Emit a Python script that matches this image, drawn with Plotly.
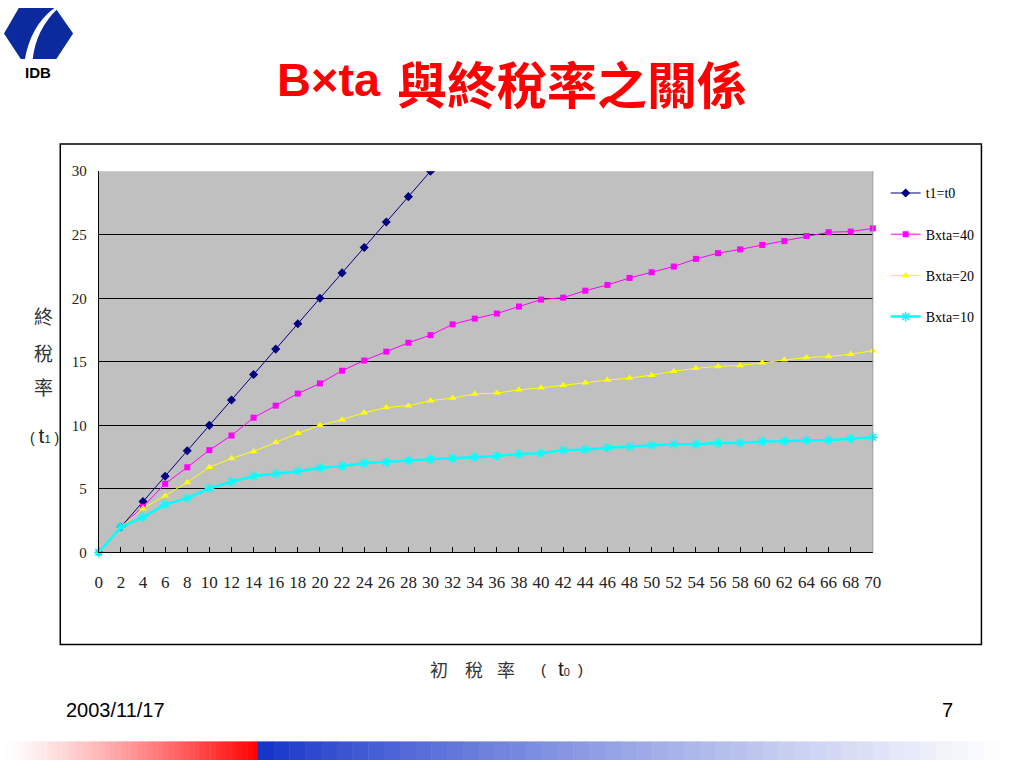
import plotly.graph_objects as go

# ---------------- data ----------------
t0 = [0, 2, 4, 6, 8, 10, 12, 14, 16, 18, 20, 22, 24, 26, 28, 30, 32, 34,
      36, 38, 40, 42, 44, 46, 48, 50, 52, 54, 56, 58, 60, 62, 64, 66, 68, 70]
t1_eq_t0 = [0, 2, 4, 6, 8, 10, 12, 14, 16, 18, 20, 22, 24, 26, 28, 30, 32, 34,
            36, 38, 40, 42, 44, 46, 48, 50, 52, 54, 56, 58, 60, 62, 64, 66, 68, 70]
bxta40 = [0, 2.0, 3.6, 5.4, 6.7, 8.05, 9.2, 10.6, 11.55, 12.5, 13.3, 14.3, 15.1, 15.8,
          16.5, 17.1, 17.95, 18.4, 18.8, 19.35, 19.9, 20.05, 20.6, 21.05, 21.6, 22.05,
          22.5, 23.1, 23.55, 23.85, 24.2, 24.5, 24.9, 25.2, 25.25, 25.5]
bxta20 = [0, 2.0, 3.45, 4.45, 5.5, 6.7, 7.4, 7.95, 8.65, 9.37, 10.0, 10.45, 11.0, 11.4,
          11.55, 11.94, 12.15, 12.47, 12.54, 12.8, 12.95, 13.16, 13.36, 13.56, 13.72,
          13.95, 14.26, 14.49, 14.64, 14.72, 14.93, 15.16, 15.34, 15.42, 15.6, 15.88]
bxta10 = [0, 2.0, 2.78, 3.76, 4.27, 5.04, 5.56, 6.0, 6.2, 6.38, 6.64, 6.8, 7.02, 7.1,
          7.23, 7.33, 7.4, 7.49, 7.59, 7.74, 7.8, 8.05, 8.1, 8.23, 8.34, 8.44, 8.52,
          8.52, 8.62, 8.62, 8.72, 8.75, 8.83, 8.83, 8.96, 9.06]
series_names = ["t1=t0", "Bxta=40", "Bxta=20", "Bxta=10"]
x_ticks = t0
y_ticks = [0, 5, 10, 15, 20, 25, 30]

W, H = 1024, 768
def px(x):
    return x / W
def py(y):
    return 1 - y / H

SERIF = "Liberation Serif, Times New Roman, serif"
SANS = "Liberation Sans, Arial, sans-serif"
CJK = "Noto Sans CJK TC, sans-serif"

fig = go.Figure()
fig.add_trace(go.Scatter(x=t0, y=t1_eq_t0, name=series_names[0], mode="lines+markers",
                         line=dict(color="#000080", width=1),
                         marker=dict(symbol="diamond", size=7, color="#000080"),
                         legendgroup="a"))
fig.add_trace(go.Scatter(x=t0, y=bxta40, name=series_names[1], mode="lines+markers",
                         line=dict(color="#FF00FF", width=1),
                         marker=dict(symbol="square", size=6, color="#FF00FF"),
                         cliponaxis=False, legendgroup="b"))
fig.add_trace(go.Scatter(x=t0, y=bxta20, name=series_names[2], mode="lines+markers",
                         line=dict(color="#FFFF00", width=1),
                         marker=dict(symbol="triangle-up", size=7, color="#FFFF00"),
                         cliponaxis=False, legendgroup="c"))
fig.add_trace(go.Scatter(x=t0, y=bxta10, name=series_names[3], mode="lines+markers",
                         line=dict(color="#00FFFF", width=2.5),
                         marker=dict(symbol="asterisk-open", size=8, color="#00FFFF",
                                     line=dict(color="#00FFFF", width=1.5)),
                         cliponaxis=False, legendgroup="d"))

shapes = []
# outer chart box
shapes.append(dict(type="rect", xref="paper", yref="paper",
                   x0=px(57), x1=px(990), y0=py(650), y1=py(139),
                   line=dict(color="black", width=1.5), fillcolor="rgba(0,0,0,0)",
                   layer="below"))
# plot area right border
shapes.append(dict(type="line", xref="paper", yref="paper",
                   x0=px(880), x1=px(880), y0=py(556), y1=py(166.7),
                   line=dict(color="#9A9A9A", width=1)))

# IDB logo hexagon
def path(pts):
    return "M " + " L ".join(f"{px(a)},{py(b)}" for a, b in pts) + " Z"
shapes.append(dict(type="path", xref="paper", yref="paper",
                   path=path([(15, 0), (52, 0), (70, 26), (53, 52), (17, 52), (0, 26)]),
                   fillcolor="#0B2A9E", line=dict(width=0)))
swoosh = (f"M {px(51)},{py(0)} Q {px(27)},{py(18)} {px(21)},{py(53)} "
          f"L {px(29)},{py(53)} Q {px(32)},{py(22)} {px(55)},{py(0)} Z")
shapes.append(dict(type="path", xref="paper", yref="paper", path=swoosh,
                   fillcolor="white", line=dict(width=0)))

# bottom gradient bar
N = 48
x_mid = 257
for i in range(N):
    x0 = x_mid * i / N
    x1 = x_mid * (i + 1) / N
    f = (i + 0.5) / N
    f = f ** 1.3
    g = int(255 * (1 - f))
    shapes.append(dict(type="rect", xref="paper", yref="paper",
                       x0=px(x0), x1=px(x1) + 0.0005, y0=py(768), y1=py(749),
                       fillcolor=f"rgb(255,{g},{g})", line=dict(width=0)))
for i in range(N):
    x0 = x_mid + (W - x_mid) * i / N
    x1 = x_mid + (W - x_mid) * (i + 1) / N
    f = (i + 0.5) / N
    f = min(1.0, f ** 0.8 * 1.02)
    r = int(16 + (255 - 16) * f)
    g = int(48 + (255 - 48) * f)
    b = int(200 + (255 - 200) * f)
    shapes.append(dict(type="rect", xref="paper", yref="paper",
                       x0=px(x0), x1=px(x1) + 0.0005, y0=py(768), y1=py(749),
                       fillcolor=f"rgb({r},{g},{b})", line=dict(width=0)))

ann = []
def text(t, x, y, font, xanchor="center"):
    ann.append(dict(text=t, x=px(x), y=py(y), xref="paper", yref="paper",
                    xanchor=xanchor, yanchor="middle", showarrow=False, font=font))

# title
text("<b>B×ta</b>", 274, 73, dict(family=SANS, size=47, color="#FF0000"), "left")
text("<b>與終稅率之關係</b>", 396, 76, dict(family=CJK, size=50, color="#FF0000"), "left")
# logo text
text("<b>IDB</b>", 34, 66, dict(family=SANS, size=15, color="black"))
# y axis title (stacked)
for ch, yy in zip(["終", "稅", "率"], [314, 352, 387]):
    text(ch, 40, yy, dict(family=CJK, size=19, color="#333333"))
text("( <span style='font-size:21px'>t</span><span style='font-size:11px'>1</span> )",
     41, 437, dict(family=SANS, size=14, color="#222222"))
# x axis title
for ch, xx in zip(["初", "稅", "率"], [441, 476, 508]):
    text(ch, xx, 675, dict(family=CJK, size=18, color="#333333"))
text("(", 546, 676, dict(family=SANS, size=15, color="#222222"))
text("<span style='font-size:21px'>t</span><span style='font-size:11px'>0</span>",
     567, 675, dict(family=SANS, size=14, color="#222222"))
text(")", 584, 676, dict(family=SANS, size=15, color="#222222"))
# footer
text("2003/11/17", 61, 717, dict(family=SANS, size=20, color="black"), "left")
text("7", 963, 717, dict(family=SANS, size=20, color="black"), "right")

fig.update_layout(
    width=W, height=H,
    margin=dict(l=0, r=0, t=0, b=0),
    paper_bgcolor="white",
    plot_bgcolor="#C0C0C0",
    shapes=shapes,
    annotations=ann,
    showlegend=True,
    legend=dict(x=px(893), y=py(173), xanchor="left", yanchor="top",
                bgcolor="rgba(0,0,0,0)", borderwidth=0,
                font=dict(family=SERIF, size=14, color="black"),
                tracegroupgap=20, itemwidth=30),
    xaxis=dict(domain=[px(96), px(880)], range=[0, 70],
               tickvals=x_ticks, ticktext=[str(v) for v in x_ticks],
               showgrid=False, zeroline=False,
               showline=True, linecolor="black", linewidth=1,
               ticks="inside", ticklen=5, tickcolor="black",
               ticklabelstandoff=14,
               tickfont=dict(family=SERIF, size=17, color="#222222")),
    yaxis=dict(domain=[py(556), py(166.7)], range=[0, 30],
               tickvals=y_ticks,
               showgrid=True, gridcolor="black", gridwidth=1,
               zeroline=False, showline=True, linecolor="black", linewidth=1,
               ticks="", ticklabelstandoff=8,
               tickfont=dict(family=SERIF, size=15, color="#222222")),
)

post = """
var gd = document.getElementById('{plot_id}');
var de = document.documentElement, bd = document.body;
[de, bd].forEach(function(e){ e.style.margin='0'; e.style.padding='0';
  e.style.overflow='hidden'; e.style.height='100%'; });
var p = gd.parentElement;
p.style.lineHeight='0'; p.style.fontSize='0'; p.style.height='0';
gd.style.position='fixed'; gd.style.left='0'; gd.style.top='0';
"""
fig.write_html("out.html", config={"displayModeBar": False}, post_script=post)
